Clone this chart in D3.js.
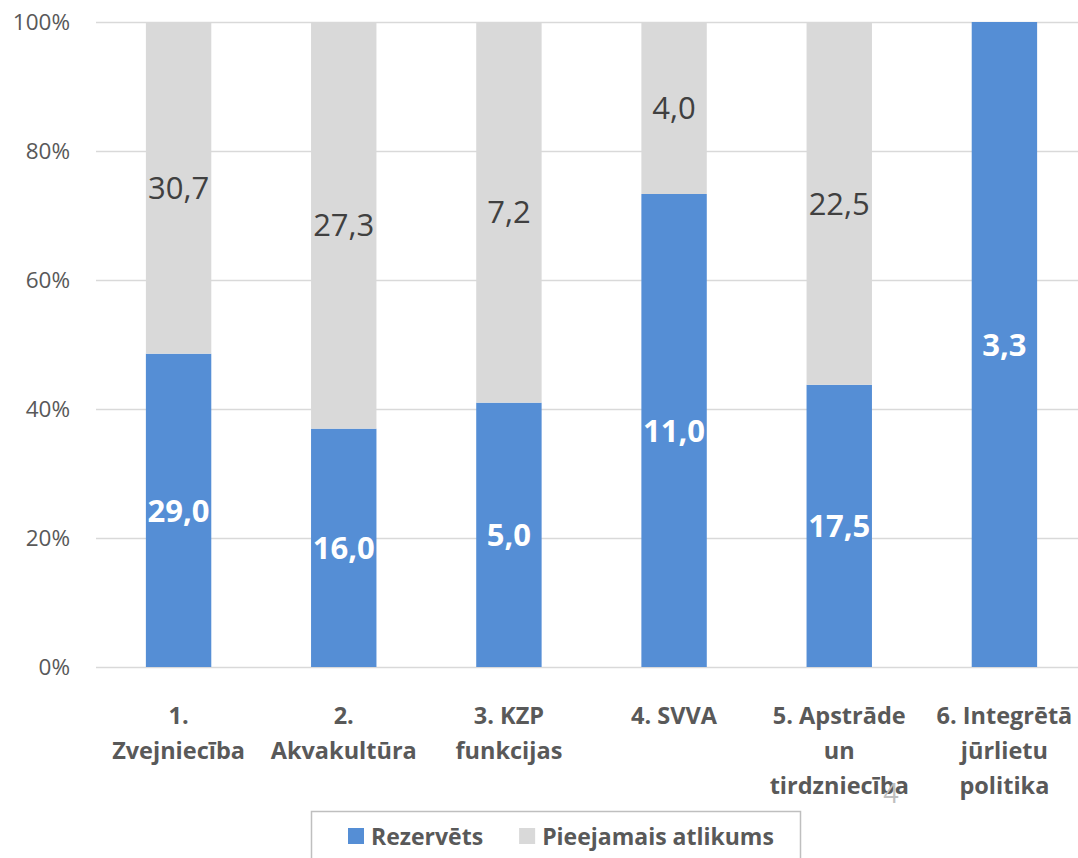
<!DOCTYPE html>
<html>
<head>
<meta charset="utf-8">
<script src="https://cdn.jsdelivr.net/npm/d3@7"></script>
<style>
  body { margin: 0; background: #fff; }
  svg { display: block; font-family: "Open Sans", "Noto Sans", sans-serif; }
</style>
</head>
<body>
<div id="chart"></div>
<script>
// categories, one entry per bar (lines as shown under the axis)
var categories = ["1. Zvejniecība", "2. Akvakultūra", "3. KZP funkcijas", "4. SVVA",
                  "5. Apstrāde un tirdzniecība", "6. Integrētā jūrlietu politika"];
var categoryLines = [
    ["1.", "Zvejniecība"],
    ["2.", "Akvakultūra"],
    ["3. KZP", "funkcijas"],
    ["4. SVVA"],
    ["5. Apstrāde", "un", "tirdzniecība"],
    ["6. Integrētā", "jūrlietu", "politika"]
];
var reserved  = [29.0, 16.0, 5.0, 11.0, 17.5, 3.3];
var available = [30.7, 27.3, 7.2, 4.0, 22.5, 0];
var seriesNames = ["Rezervēts", "Pieejamais atlikums"];
var yTicks = [0, 0.2, 0.4, 0.6, 0.8, 1];

var width = 1078, height = 858;
var colors = ["#558ed5", "#d9d9d9"];

var svg = d3.select("#chart").append("svg")
    .attr("width", width)
    .attr("height", height);

var x = d3.scaleBand()
    .domain(categories)
    .range([96, 1087])
    .paddingInner(0.604)
    .paddingOuter(0.302);

var y = d3.scaleLinear()
    .domain([0, 1])
    .range([667, 22]);

// gridlines
svg.append("g").selectAll("line")
    .data(yTicks)
    .enter().append("line")
    .attr("x1", 96)
    .attr("x2", width)
    .attr("y1", function(d) { return Math.round(y(d)) + 0.5; })
    .attr("y2", function(d) { return Math.round(y(d)) + 0.5; })
    .style("stroke", "#d9d9d9")
    .style("stroke-width", 1.5);

// y tick labels
svg.append("g").selectAll("text")
    .data(yTicks)
    .enter().append("text")
    .attr("x", 70)
    .attr("y", function(d) { return y(d); })
    .attr("dy", "0.35em")
    .attr("text-anchor", "end")
    .style("font-size", "22.5px")
    .style("fill", "#595959")
    .text(function(d) { return Math.round(d * 100) + "%"; });

// stacked percent data
var rows = categories.map(function(c, i) {
    var total = reserved[i] + available[i];
    return {
        cat: c,
        parts: [
            { v: reserved[i], y0: 0, y1: reserved[i] / total, k: 0 },
            { v: available[i], y0: reserved[i] / total, y1: 1, k: 1 }
        ]
    };
});

var bars = svg.append("g").selectAll("g")
    .data(rows)
    .enter().append("g")
    .attr("transform", function(d) { return "translate(" + x(d.cat) + ",0)"; });

bars.selectAll("rect")
    .data(function(d) { return d.parts.filter(function(p) { return p.v > 0; }); })
    .enter().append("rect")
    .attr("x", 0)
    .attr("width", x.bandwidth())
    .attr("y", function(p) { return y(p.y1); })
    .attr("height", function(p) { return y(p.y0) - y(p.y1); })
    .style("fill", function(p) { return colors[p.k]; });

bars.selectAll("text")
    .data(function(d) { return d.parts.filter(function(p) { return p.v > 0; }); })
    .enter().append("text")
    .attr("x", x.bandwidth() / 2)
    .attr("y", function(p) { return (y(p.y0) + y(p.y1)) / 2; })
    .attr("dy", "0.36em")
    .attr("text-anchor", "middle")
    .style("font-size", "31px")
    .style("font-weight", function(p) { return p.k === 0 ? "bold" : "normal"; })
    .style("fill", function(p) { return p.k === 0 ? "#ffffff" : "#404040"; })
    .text(function(p) { return p.v.toFixed(1).replace(".", ","); });

// category labels
var catLabels = svg.append("g").selectAll("text")
    .data(categories)
    .enter().append("text")
    .attr("x", function(d) { return x(d) + x.bandwidth() / 2; })
    .attr("y", 724)
    .attr("text-anchor", "middle")
    .style("font-size", "23.5px")
    .style("font-weight", "bold")
    .style("fill", "#595959");

catLabels.selectAll("tspan")
    .data(function(d, i) { return categoryLines[i]; })
    .enter().append("tspan")
    .attr("x", function() { var p = d3.select(this.parentNode).datum(); return x(p) + x.bandwidth() / 2; })
    .attr("dy", function(d, i) { return i === 0 ? 0 : 35; })
    .text(String);

// stray page number
svg.append("text")
    .attr("x", 891)
    .attr("y", 803)
    .attr("text-anchor", "middle")
    .style("font-size", "27px")
    .style("fill", "#bfbfbf")
    .text("4");

// legend
var legend = svg.append("g");
legend.append("rect")
    .attr("x", 311.5)
    .attr("y", 811.5)
    .attr("width", 489)
    .attr("height", 70)
    .style("fill", "#fff")
    .style("stroke", "#bfbfbf")
    .style("stroke-width", 1.5);

var lx = 348;
seriesNames.forEach(function(name, i) {
    legend.append("rect")
        .attr("x", lx)
        .attr("y", 828)
        .attr("width", 16)
        .attr("height", 16)
        .style("fill", colors[i]);
    var t = legend.append("text")
        .attr("x", lx + 23)
        .attr("y", 845)
        .style("font-size", "23px")
        .style("font-weight", "bold")
        .style("fill", "#595959")
        .text(name);
    lx = lx + 23 + t.node().getComputedTextLength() + 36;
});
</script>
</body>
</html>
